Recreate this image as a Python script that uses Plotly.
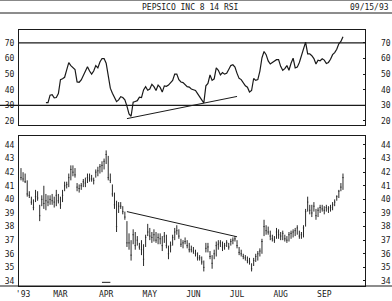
import plotly.graph_objects as go

# ---- data (trading-day index) ----
days = list(range(156))
highs = [42.3,42.0,41.9,41.4,40.6,40.2,40.0,40.7,40.6,39.6,
40.3,41.0,40.4,40.3,40.3,40.4,40.2,40.7,40.4,40.2,
40.7,41.3,41.3,41.9,42.5,42.5,42.3,41.2,41.1,41.2,
41.5,41.6,41.9,41.9,41.8,41.6,42.2,42.4,42.6,42.8,
43.0,43.6,43.2,41.9,41.1,40.5,39.9,39.8,39.8,39.5,
39.1,38.4,37.5,37.0,37.8,37.6,37.3,36.8,37.0,36.7,
37.4,38.2,37.9,37.6,37.8,37.6,37.5,37.5,37.3,37.6,
37.4,36.6,36.9,37.4,37.9,38.1,37.8,37.1,37.0,37.2,
37.0,36.8,36.6,36.5,36.3,36.1,35.9,35.8,35.5,36.8,
36.8,36.2,35.9,36.3,36.9,37.0,37.0,36.9,36.8,37.0,
36.8,37.1,37.2,37.3,37.0,36.5,36.3,36.0,35.9,35.8,
35.7,35.3,35.7,36.0,36.2,36.4,37.1,38.5,38.1,38.0,
37.7,37.4,37.3,37.9,37.8,37.6,37.7,37.4,37.3,37.6,
37.7,37.8,37.9,38.1,37.7,37.6,38.1,39.3,40.2,39.6,
39.6,39.8,39.3,39.4,39.6,39.6,39.5,39.6,39.5,39.6,
39.8,40.0,40.3,40.7,41.2,41.9]
lows = [41.4,41.3,41.2,40.2,40.1,39.6,39.2,39.8,39.9,38.4,
39.5,39.3,39.2,39.5,39.6,39.6,39.4,39.5,39.7,39.3,
39.8,40.6,40.8,40.9,41.4,41.7,41.6,40.6,40.5,40.7,
40.9,40.9,41.2,41.3,41.3,41.1,41.6,41.7,41.9,42.0,
42.2,42.6,41.4,41.2,40.2,39.3,37.6,39.0,39.3,38.9,
38.5,36.5,36.3,35.5,36.7,36.3,36.6,36.3,35.9,35.1,
36.5,37.3,37.0,36.8,36.9,36.8,36.7,36.7,36.2,36.8,
36.4,35.6,36.1,36.6,37.0,37.4,37.1,36.5,36.4,36.7,
36.4,36.1,36.1,36.0,35.8,35.5,35.5,35.2,34.7,36.1,
36.1,35.6,34.9,35.6,35.8,36.3,36.5,36.2,36.3,36.5,
36.3,36.6,36.7,36.9,36.4,35.9,35.8,35.6,35.5,35.3,
35.2,34.7,35.1,35.4,35.5,35.8,36.0,37.3,37.4,37.4,
37.0,36.9,36.8,37.1,37.1,37.0,37.0,36.9,36.8,36.9,
37.1,37.2,37.3,37.4,37.1,37.1,37.2,38.0,39.1,38.9,
38.7,39.1,38.5,38.7,39.0,39.1,38.9,39.1,39.0,39.1,
39.2,39.5,39.9,40.1,40.6,40.7]
closes = [41.6,41.5,41.3,40.4,40.3,39.8,39.4,40.2,40.1,38.8,
40.0,39.7,39.9,39.8,40.0,39.9,39.8,40.3,39.9,39.6,
40.3,41.0,41.1,41.6,42.2,42.0,41.8,40.9,40.8,41.0,
41.3,41.2,41.6,41.5,41.5,41.4,42.0,42.1,42.4,42.5,
42.8,43.3,41.6,41.4,40.4,39.6,38.0,39.5,39.5,39.1,
38.7,36.8,36.8,35.9,37.4,36.6,37.0,36.5,36.3,35.6,
37.2,37.6,37.3,37.2,37.4,37.0,37.2,37.1,36.6,37.3,
36.6,36.0,36.6,37.2,37.6,37.7,37.3,36.7,36.8,36.9,
36.6,36.3,36.3,36.2,36.0,35.7,35.7,35.4,35.0,36.4,
36.5,35.8,35.3,36.0,36.6,36.7,36.8,36.5,36.6,36.8,
36.5,36.9,37.0,37.1,36.6,36.1,36.0,35.8,35.7,35.5,
35.4,34.9,35.5,35.8,36.0,36.2,36.9,38.0,37.7,37.6,
37.3,37.1,37.0,37.6,37.4,37.3,37.5,37.1,37.0,37.4,
37.5,37.6,37.7,37.9,37.3,37.4,37.9,39.1,39.8,39.2,
39.0,39.5,38.8,39.2,39.4,39.3,39.2,39.4,39.3,39.4,
39.6,39.8,40.2,40.6,40.9,41.6]

rsi_days = list(range(12, 156))
rsi = [31.7,31.7,36.5,36.8,34.8,35.0,37.5,46.5,47.0,48.0,
52.7,57.4,55.5,54.3,53.0,45.0,44.8,46.3,49.0,51.6,
54.8,52.0,50.0,52.0,55.5,54.0,57.8,60.0,60.0,57.0,
48.5,41.0,37.8,35.5,32.4,33.5,35.5,35.0,33.5,29.5,
24.5,23.0,32.0,32.5,33.0,35.2,35.0,39.9,42.0,39.7,
40.5,43.5,42.0,39.5,43.0,41.5,38.5,42.5,42.2,43.0,
44.5,46.0,50.0,50.0,46.5,45.0,44.6,43.0,42.0,41.7,
40.5,40.0,39.5,37.5,35.0,33.5,31.5,42.5,44.0,49.5,
46.0,47.0,54.0,52.5,49.5,51.0,50.0,50.5,53.0,55.5,
56.0,54.5,50.5,47.3,46.5,44.4,42.5,41.6,38.5,39.5,
47.2,46.0,46.5,52.0,60.5,64.5,62.5,58.5,56.5,57.5,
58.3,59.3,59.3,55.0,52.5,53.5,55.5,52.5,57.0,60.2,
54.0,54.5,57.5,62.0,66.8,70.5,63.0,63.0,61.8,60.0,
56.5,59.0,58.6,59.8,59.0,56.8,57.5,59.5,62.5,63.8,
66.0,69.5,71.0,74.0]

rsi_trend_days = [51, 104]
rsi_trend_vals = [21.5, 35.7]
price_trend_days = [51, 104]
price_trend_vals = [39.1, 37.25]
div_days = [41]
div_vals = [33.9]

month_ticks = [1, 19, 41, 62, 83, 104, 125, 146]
month_labels = ["'93", "MAR", "APR", "MAY", "JUN", "JUL", "AUG", "SEP"]
rsi_ticks = [20, 30, 40, 50, 60, 70]
price_ticks = list(range(34, 45))
rsi_levels = [70, 30]

title_text = "PEPSICO INC 8 14 RSI"
date_text = "09/15/93"

INK = "#1a1a1a"
FONT = dict(family="DejaVu Sans Mono", size=8, color=INK)

fig = go.Figure()
fig.add_trace(go.Ohlc(x=days, open=closes, high=highs, low=lows, close=closes,
                      increasing_line_color="#2a2a2a", decreasing_line_color="#2a2a2a",
                      line_width=1, tickwidth=0.3, xaxis="x", yaxis="y",
                      hoverinfo="skip", showlegend=False))
fig.add_trace(go.Scatter(x=price_trend_days, y=price_trend_vals, mode="lines",
                         line=dict(color=INK, width=1), xaxis="x", yaxis="y", showlegend=False))
fig.add_trace(go.Scatter(x=div_days, y=div_vals, mode="markers",
                         marker=dict(symbol="line-ew", size=6, line=dict(color=INK, width=1)),
                         xaxis="x", yaxis="y", showlegend=False))
fig.add_trace(go.Scatter(x=rsi_days, y=rsi, mode="lines",
                         line=dict(color=INK, width=1.2), xaxis="x2", yaxis="y2", showlegend=False))
fig.add_trace(go.Scatter(x=rsi_trend_days, y=rsi_trend_vals, mode="lines",
                         line=dict(color=INK, width=1), xaxis="x2", yaxis="y2", showlegend=False))
# helper (invisible) traces for right-side duplicate axes
fig.add_trace(go.Scatter(x=[None], y=[None], xaxis="x", yaxis="y3", showlegend=False, hoverinfo="skip"))
fig.add_trace(go.Scatter(x=[None], y=[None], xaxis="x2", yaxis="y4", showlegend=False, hoverinfo="skip"))

xr = [-0.96, 165.6]
price_range = [33.63, 44.66]
rsi_range = [17.4, 78.3]
top_dom = [0.6289, 1]
bot_dom = [0, 0.5859]

common_axis = dict(showgrid=False, zeroline=False, showline=True, linecolor=INK,
                   linewidth=1, tickfont=FONT, automargin=False)

fig.update_layout(
    width=392, height=301,
    margin=dict(l=19, r=27, t=30, b=15, autoexpand=False),
    paper_bgcolor="white", plot_bgcolor="white",
    showlegend=False,
    xaxis=dict(domain=[0, 1], range=xr, anchor="y", tickmode="array",
               tickvals=month_ticks, ticktext=month_labels, ticks="",
               mirror=True, rangeslider=dict(visible=False), **common_axis),
    xaxis2=dict(domain=[0, 1], range=xr, anchor="y2", matches="x",
                showticklabels=False, ticks="", mirror=True, **common_axis),
    yaxis=dict(domain=bot_dom, range=price_range, anchor="x", tickmode="array",
               tickvals=price_ticks, ticks="", ticklabelstandoff=2, mirror=True, **common_axis),
    yaxis2=dict(domain=top_dom, range=rsi_range, anchor="x2", tickmode="array",
                tickvals=rsi_ticks, ticks="", ticklabelstandoff=2, mirror=True, **common_axis),
    yaxis3=dict(overlaying="y", side="right", anchor="x", range=price_range,
                tickmode="array", tickvals=price_ticks, ticks="inside", ticklen=2,
                tickcolor=INK, ticklabelstandoff=15, showgrid=False, zeroline=False,
                showline=False, tickfont=FONT, automargin=False),
    yaxis4=dict(overlaying="y2", side="right", anchor="x2", range=rsi_range,
                tickmode="array", tickvals=rsi_ticks, ticks="inside", ticklen=2,
                tickcolor=INK, ticklabelstandoff=15, showgrid=False, zeroline=False,
                showline=False, tickfont=FONT, automargin=False),
)

shapes = []
for lvl in rsi_levels:
    shapes.append(dict(type="line", xref="paper", yref="y2",
                       x0=(-0.055 if lvl == 30 else 0), x1=1, y0=lvl, y1=lvl,
                       line=dict(color=INK, width=1.3)))
# header rules and full-width bottom rule
shapes.append(dict(type="line", xref="paper", yref="paper", x0=-0.055, x1=1.078,
                   y0=1.0664, y1=1.0664, line=dict(color=INK, width=1)))
shapes.append(dict(type="line", xref="paper", yref="paper", x0=-0.055, x1=1.078,
                   y0=1.1152, y1=1.1152, line=dict(color="#888", width=1)))
shapes.append(dict(type="line", xref="paper", yref="paper", x0=-0.055, x1=1.078,
                   y0=0, y1=0, line=dict(color=INK, width=1)))
fig.update_layout(shapes=shapes)

fig.add_annotation(text=title_text, xref="paper", yref="paper", x=0.497, y=1.0898,
                   xanchor="center", yanchor="middle", showarrow=False, font=FONT)
fig.add_annotation(text=date_text, xref="paper", yref="paper", x=1.075, y=1.0898,
                   xanchor="right", yanchor="middle", showarrow=False, font=FONT)

fig.write_html("out.html")
